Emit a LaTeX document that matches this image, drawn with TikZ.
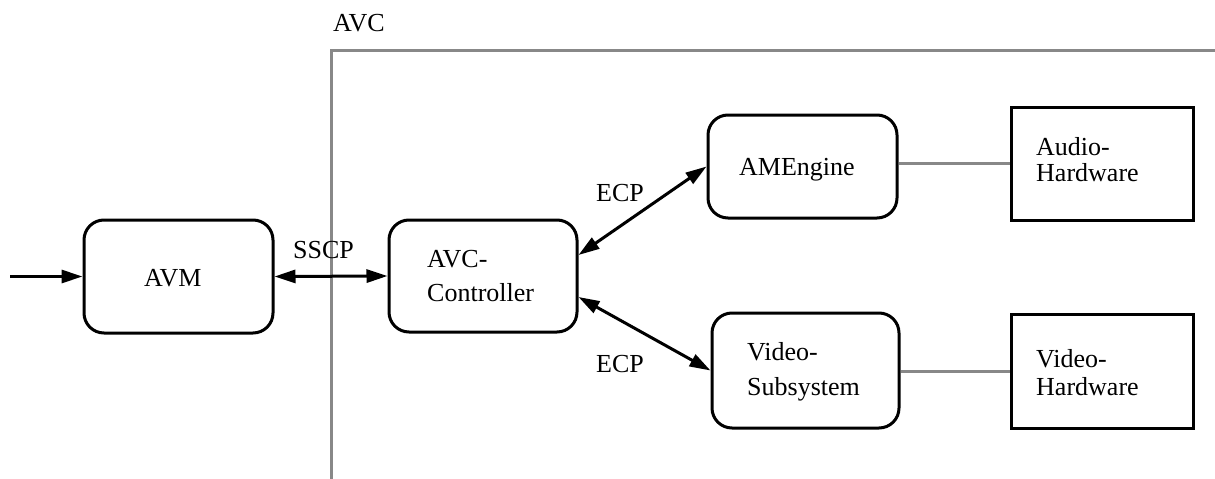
\documentclass[tikz,border=0pt]{standalone}
\usepackage{fontspec}
\setmainfont{Liberation Serif}
\usetikzlibrary{arrows.meta}
\definecolor{framegray}{RGB}{136,136,136}
\tikzset{
  box/.style={draw, line width=3pt, rounded corners=20pt, inner sep=0pt},
  hwbox/.style={draw, line width=3pt, inner sep=0pt},
  txt/.style={anchor=base west, inner sep=0pt, font=\fontsize{26}{30}\selectfont},
  link/.style={line width=3pt, {Triangle[length=21pt,width=13pt]}-{Triangle[length=21pt,width=13pt]}},
  feed/.style={line width=3pt, -{Triangle[length=21pt,width=13pt]}},
  wire/.style={line width=3pt, draw=framegray},
}
\begin{document}
\begin{tikzpicture}[x=1pt, y=-1pt]
  \useasboundingbox (0,0) rectangle (1215,479);

  % system boundary
  \coordinate (fb) at (331,479);
  \coordinate (fc) at (331,50);
  \coordinate (fr) at (1215,50);
  \draw[wire] (fb) -- (fc) -- (fr);
  \node[txt] (avc) at (333,31) {AVC};

  % blocks
  \node[box, minimum width=189pt, minimum height=113pt] (avm) at (178.5,276.5) {};
  \node[box, minimum width=188pt, minimum height=112pt] (ctl) at (483,276) {};
  \node[box, minimum width=189pt, minimum height=103pt] (amg) at (802.5,166.5) {};
  \node[box, minimum width=187pt, minimum height=115pt] (vss) at (805.5,370.5) {};
  \node[hwbox, minimum width=182pt, minimum height=113pt] (ahw) at (1102,163.5) {};
  \node[hwbox, minimum width=182pt, minimum height=114pt] (vhw) at (1102,371) {};

  % block texts
  \node[txt] (avm-t) at (144,286) {AVM};
  \node[txt] (ctl-t1) at (427,267) {AVC-};
  \node[txt] (ctl-t2) at (427,301) {Controller};
  \node[txt] (amg-t) at (739,175) {AMEngine};
  \node[txt] (vss-t1) at (747,360) {Video-};
  \node[txt] (vss-t2) at (747,395) {Subsystem};
  \node[txt] (ahw-t1) at (1036,155) {Audio-};
  \node[txt] (ahw-t2) at (1036,181) {Hardware};
  \node[txt] (vhw-t1) at (1036,367) {Video-};
  \node[txt] (vhw-t2) at (1036,395) {Hardware};

  % connectors
  \coordinate (in) at (10,276.5);
  \draw[feed] (in) -- (avm.west);
  \draw[link] (avm.east) -- (ctl.west);
  \draw[link] ([yshift=21pt]ctl.east) -- (amg.west);
  \draw[link] ([yshift=-21pt]ctl.east) -- (vss.west);
  \draw[wire] (ahw.west -| amg.east) -- (ahw.west);
  \draw[wire] (vhw.west -| vss.east) -- (vhw.west);

  % connector labels
  \node[txt] (sscp) at (293,258) {SSCP};
  \node[txt] (ecp1) at (596,201) {ECP};
  \node[txt] (ecp2) at (596,372) {ECP};
\end{tikzpicture}
\end{document}
